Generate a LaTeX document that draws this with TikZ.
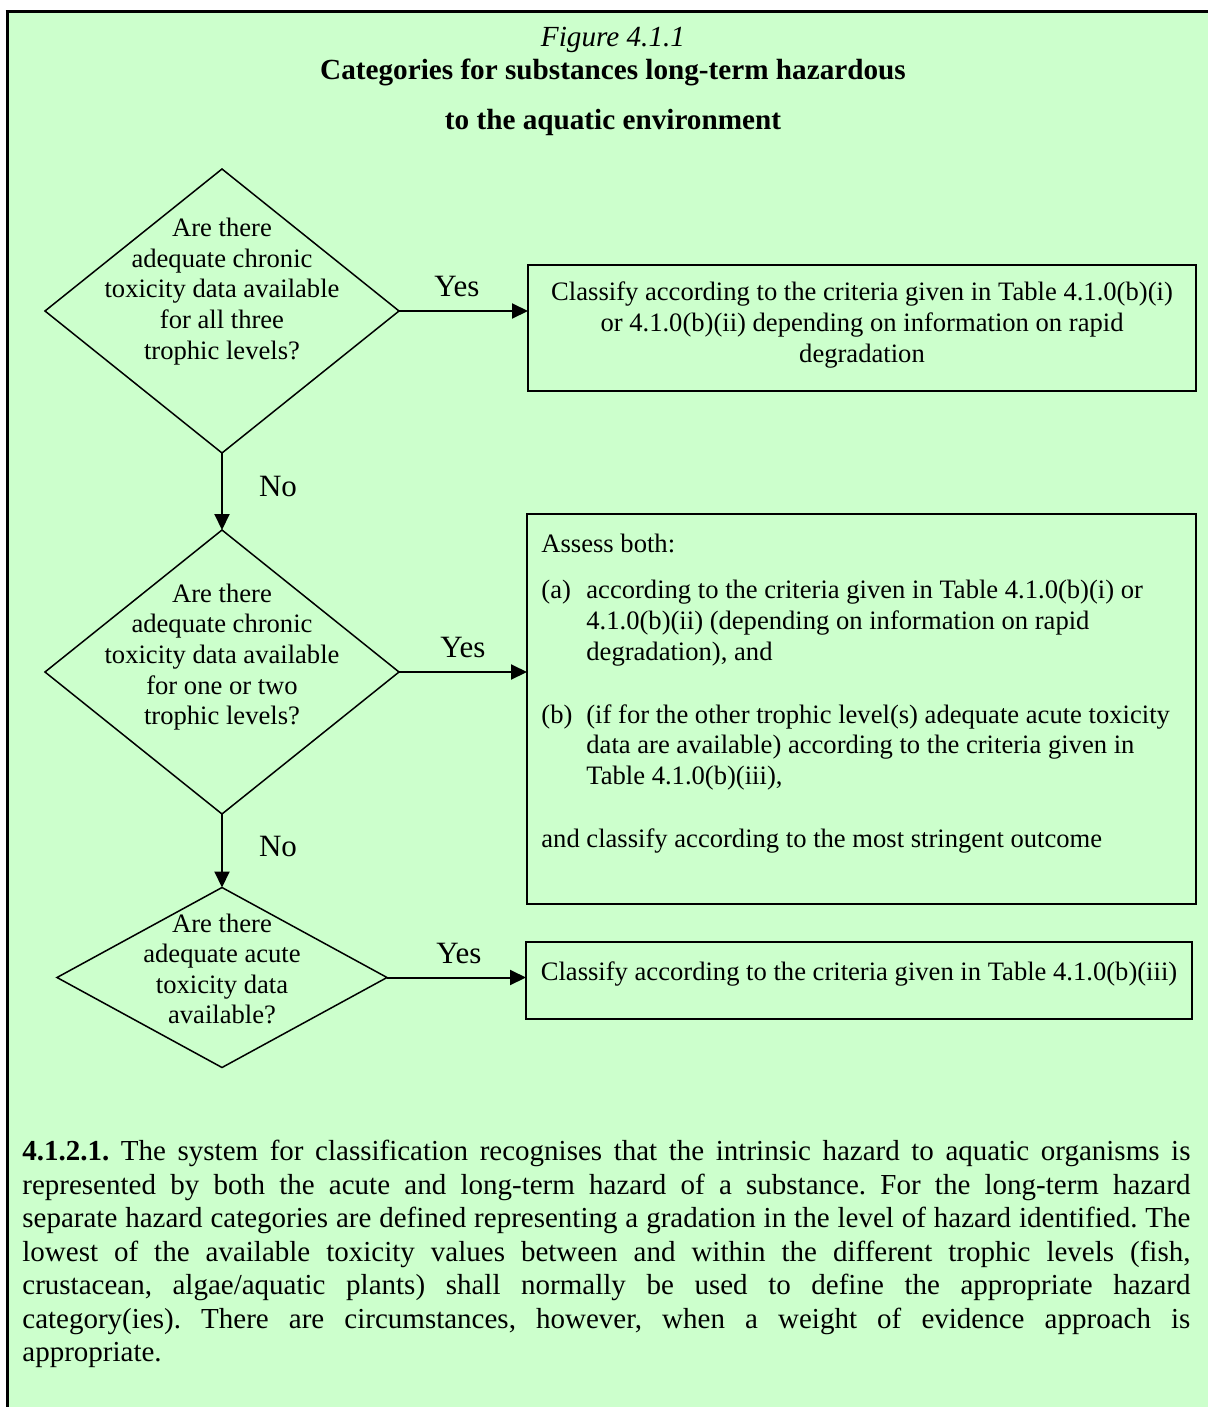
\documentclass[tikz,border=0pt]{standalone}
\usepackage{fontspec}
\setmainfont{Liberation Serif}
\usetikzlibrary{shapes.geometric,arrows.meta}
\definecolor{panel}{HTML}{CCFFCC}
\newcommand\casemark[1]{\makebox[22.5pt][l]{#1}}
\frenchspacing
\begin{document}
\begin{tikzpicture}[x=0.5pt,y=-0.5pt,
  question/.style={diamond, draw, line width=0.75pt, inner sep=0pt, outer sep=0pt},
  outcome/.style={rectangle, draw, line width=1pt, inner sep=0pt, outer sep=0pt},
  txt/.style={inner sep=0pt, font=\fontsize{13.3}{15.3}\selectfont},
  answer/.style={inner sep=0pt, font=\fontsize{15.5}{17}\selectfont},
  heading/.style={inner sep=0pt, font=\fontsize{14.5}{16.75}\selectfont},
  flow/.style={line width=1pt, -{Triangle[length=8pt,width=7.5pt]}}]
\useasboundingbox (0,0) rectangle (1207,1407);
% page, panel background and frame
\fill[white] (-10,-10) rectangle (1220,1420);
\fill[panel] (7,12) rectangle (1220,1420);
\draw[line width=1.5pt] (5.5,12) -- (1220,12);
\draw[line width=1.5pt] (7,12) -- (7,1420);

% headings
\node[heading, font=\fontsize{14.6}{16.75}\selectfont\itshape] (fig) at (613,40) {Figure 4.1.1};
\node[heading, font=\fontsize{14.6}{16.75}\selectfont\bfseries] (title1) at (613,72) {Categories for substances long-term hazardous};
\node[heading, font=\fontsize{14.6}{16.75}\selectfont\bfseries] (title2) at (613,122) {to the aquatic environment};

% decisions
\node[question, minimum width=177pt, minimum height=142pt] (d1) at (222,311) {};
\node[question, minimum width=177pt, minimum height=142pt] (d2) at (222,672) {};
\node[question, minimum width=165pt, minimum height=90pt] (d3) at (222,977.5) {};

\node[txt, align=center] (q1) at (222,291.5) {Are there\\adequate chronic\\toxicity data available\\for all three\\trophic levels?};
\node[txt, align=center] (q2) at (222,657) {Are there\\adequate chronic\\toxicity data available\\for one or two\\trophic levels?};
\node[txt, align=center] (q3) at (222,969) {Are there\\adequate acute\\toxicity data\\available?};

% outcomes
\node[outcome, minimum width=334pt, minimum height=63pt] (b1) at (862,328) {};
\node[outcome, minimum width=334.5pt, minimum height=195pt] (b2) at (861.5,709) {};
\node[outcome, minimum width=333pt, minimum height=38.5pt] (b3) at (859,980.5) {};

\node[txt, align=center] (t1) at (862,325) {Classify according to the criteria given in Table 4.1.0(b)(i)\\or 4.1.0(b)(ii) depending on information on rapid\\degradation};
\node[txt, align=left, anchor=north west] (t2) at (541,534) {Assess both:\\[7.7pt]
\casemark{(a)}according to the criteria given in Table 4.1.0(b)(i) or\\
\hspace*{22.5pt}4.1.0(b)(ii) (depending on information on rapid\\
\hspace*{22.5pt}degradation), and\\[16.2pt]
\casemark{(b)}(if for the other trophic level(s) adequate acute toxicity\\
\hspace*{22.5pt}data are available) according to the criteria given in\\
\hspace*{22.5pt}Table 4.1.0(b)(iii),\\[16.2pt]
and classify according to the most stringent outcome};
\node[txt] (t3) at (859,974) {Classify according to the criteria given in Table 4.1.0(b)(iii)};

% connectors
\draw[flow] (d1.east) -- (d1.east -| b1.west);
\draw[flow] (d2.east) -- (d2.east -| b2.west);
\draw[flow] (d3.east) -- (d3.east -| b3.west);
\draw[flow] (d1.south) -- (d2.north);
\draw[flow] (d2.south) -- (d3.north);

\node[answer] (y1) at (457,287) {Yes};
\node[answer] (y2) at (463,647) {Yes};
\node[answer] (y3) at (459,953) {Yes};
\node[answer] (n1) at (278,486) {No};
\node[answer] (n2) at (278,846) {No};

% explanatory paragraph
\node[heading, anchor=north west, text width=584pt, align=justify] (para) at (22,1140) {\hyphenpenalty=10000\tolerance=10000
\textbf{4.1.2.1.} The system for classification recognises that the intrinsic hazard to aquatic organisms is\linebreak
represented by both the acute and long-term hazard of a substance. For the long-term hazard\linebreak
separate hazard categories are defined representing a gradation in the level of hazard identified. The\linebreak
lowest of the available toxicity values between and within the different trophic levels (fish,\linebreak
crustacean, algae/aquatic plants) shall normally be used to define the appropriate hazard\linebreak
category(ies). There are circumstances, however, when a weight of evidence approach is\linebreak
appropriate.};
\end{tikzpicture}
\end{document}
